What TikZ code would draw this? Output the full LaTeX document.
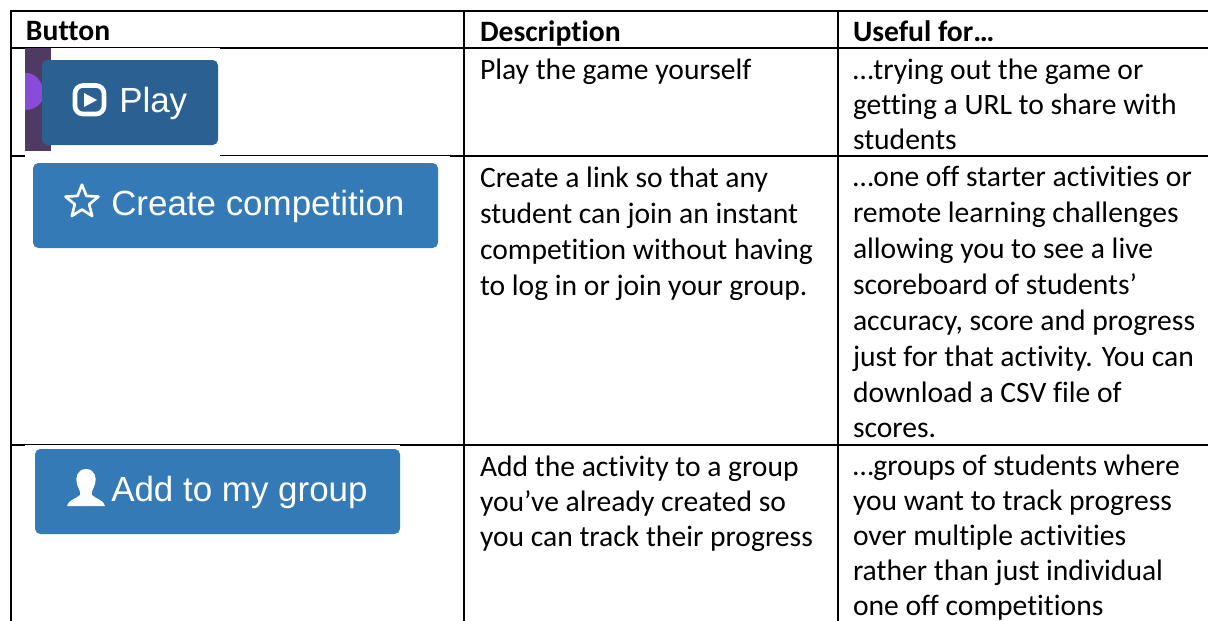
\documentclass[tikz,border=0pt]{standalone}
\usepackage{fontspec}
\usetikzlibrary{shapes.geometric}
\setmainfont{Carlito}[Ligatures=NoCommon]
\newfontfamily\btnfont{Liberation Sans}
\definecolor{btnblue}{HTML}{337AB7}
\definecolor{btndark}{HTML}{2A6092}
\definecolor{bgpurple}{HTML}{4F3A63}
\definecolor{orb}{HTML}{8A4BD8}
\newcommand{\firstline}{\rule{0pt}{15pt}}
\tikzset{
  px/.style={x=0.75pt,y=-0.75pt},
  rule/.style={line width=1.5pt,black},
  cell/.style={anchor=north west,inner sep=0pt,outer sep=0pt,align=left,font=\fontsize{22.2pt}{#1}\selectfont,text=black},
  cell/.default={26.9pt},
  head/.style={cell,font=\fontsize{22.2pt}{26.9pt}\selectfont\bfseries},
  btn/.style={rounded corners=4pt,draw=none},
  btntext/.style={text=white,inner sep=0pt,anchor=base west,font=\btnfont\fontsize{26.2pt}{26.2pt}\selectfont}
}
\begin{document}
\begin{tikzpicture}[px]
\useasboundingbox (0,0) rectangle (1208,621);
\fill[white] (0,0) rectangle (1208,621);
% grid
\draw[rule] (10,11) -- (1208,11);
\draw[rule] (11,48) -- (1208,48);
\draw[rule] (11,156) -- (1208,156);
\draw[rule] (11,445) -- (1208,445);
\draw[rule] (11,10) -- (11,621);
\draw[rule] (464,10) -- (464,621);
\draw[rule] (838,10) -- (838,621);
% header
\node[head] (h1) at (26,20.8) {\firstline Button};
\node[head] (h2) at (480,20.8) {\firstline Description};
\node[head] (h3) at (853,20.8) {\firstline Useful for…};
% col2
\node[cell] (d1) at (480,58.8) {\firstline Play the game yourself};
\node[cell] (d2) at (480,167) {\firstline Create a link so that any\\student can join an instant\\competition without having\\to log in or join your group.};
\node[cell=26.45pt] (d3) at (480,455.5) {\firstline Add the activity to a group\\you’ve already created so\\you can track their progress};
% col3
\node[cell=26.2pt] (u1) at (853,58.8) {\firstline …trying out the game or\\getting a URL to share with\\students};
\node[cell] (u2) at (853,166.5) {\firstline …one off starter activities or\\remote learning challenges\\allowing you to see a live\\scoreboard of students’\\accuracy, score and progress\\just for that activity. You can\\download a CSV file of\\scores.};
\node[cell=26.3pt] (u3) at (853,455) {\firstline …groups of students where\\you want to track progress\\over multiple activities\\rather than just individual\\one off competitions};
% play button
\fill[white] (25,48) rectangle (220,155.5);
\fill[bgpurple] (25,48) rectangle (51,151);
\fill[orb] (25,73) .. controls (36,72) and (44,84) .. (44,94) .. controls (44,102) and (36,110) .. (25,110) -- cycle;
\fill[btndark,btn] (42,60) rectangle (218,145);
\draw[white,line width=3.5pt,rounded corners=6pt] (75,85.5) rectangle (104,114);
\fill[white] (84,93) -- (97,100) -- (84,107) -- cycle;
\node[btntext] (play) at (119,112.7) {Play};
% create button
\fill[white] (25,156) rectangle (450,163);
\fill[btnblue,btn] (33,163) rectangle (438,248);
\node[star,star points=5,star point ratio=2.3,draw=white,line width=2pt,line join=round,inner sep=0pt,minimum size=26pt] (star) at (82,202) {};
\node[btntext] (create) at (111,215) {Create competition};
% group button
\fill[white] (25,445) rectangle (400,449);
\fill[btnblue,btn] (35,449) rectangle (400,534);
\fill[white] (86,469) .. controls (77,469) and (75,478) .. (77,484) .. controls (78,488) and (81,491) .. (80,495) .. controls (76,499) and (68,500) .. (67,506) -- (105,506) .. controls (104,500) and (96,499) .. (92,495) .. controls (91,491) and (94,488) .. (95,484) .. controls (97,478) and (95,469) .. (86,469) -- cycle;
\node[btntext] (group) at (111,501) {Add to my group};
\end{tikzpicture}
\end{document}
